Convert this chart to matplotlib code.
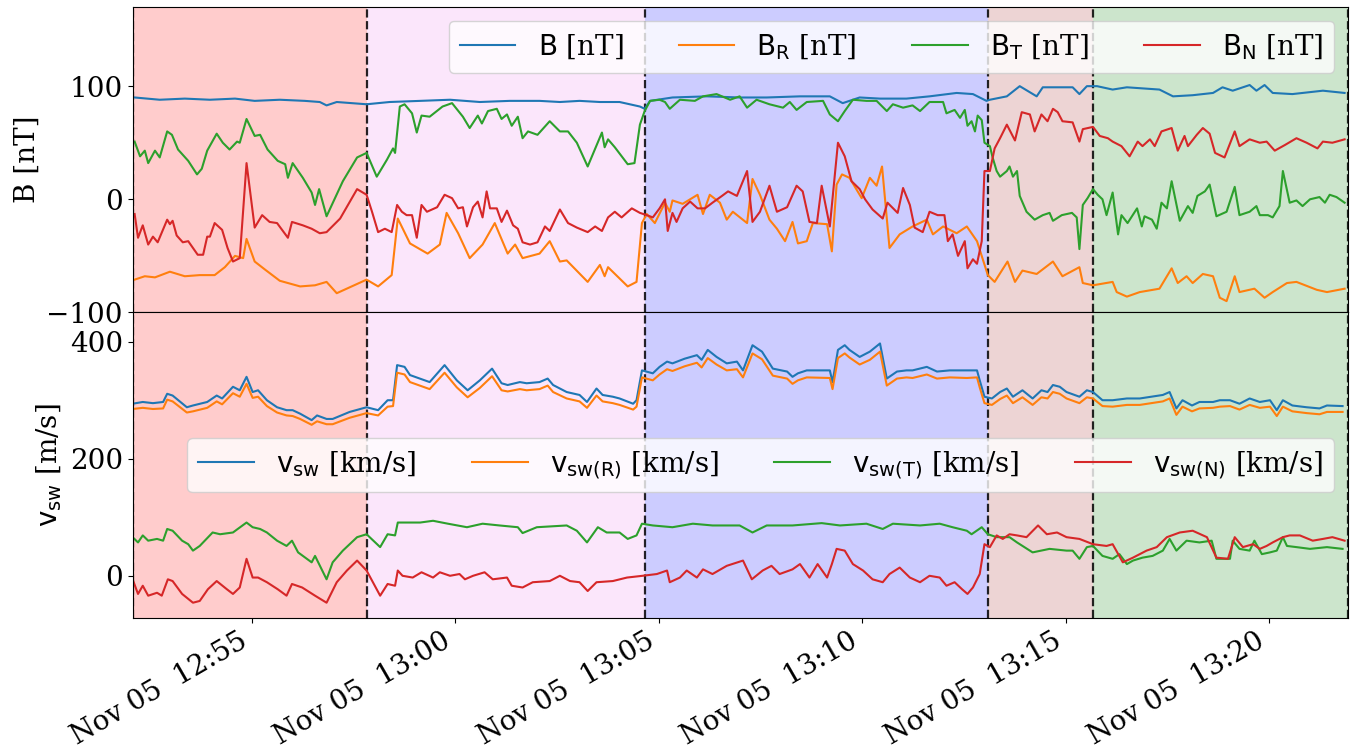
import numpy as np
import pandas as pd
import matplotlib
matplotlib.use('Agg')
import matplotlib.pyplot as plt
import matplotlib.dates as mdates

plt.rcParams['font.family'] = 'DejaVu Serif'
plt.rcParams['font.size'] = 20

t0 = pd.Timestamp('2018-11-05 12:52:00')

# ---- magnetic field panel (seconds after 12:52:00, nT) ----
b_sec = [7, 44, 81, 118, 155, 184, 221, 258, 280, 290, 305, 349, 383, 428, 472, 516, 560, 604, 634, 663,
         693, 722, 752, 759, 767, 800, 851, 899, 939, 988, 1032, 1051, 1076, 1106, 1145, 1179, 1219, 1243,
         1263, 1268, 1293, 1312, 1337, 1346, 1390, 1400, 1411, 1426, 1449, 1470, 1518, 1538, 1567, 1597,
         1611, 1626, 1651, 1661, 1673, 1685, 1714, 1759, 1791]
b_mag = [90, 88, 89, 88, 89, 87, 88, 87, 86, 83, 86, 84, 86, 87, 88, 86, 87, 87, 86, 87,
         86, 86, 82, 80, 87, 90, 91, 90, 90, 91, 91, 85, 90, 89, 89, 91, 94, 93,
         87, 88, 91, 100, 91, 99, 99, 93, 100, 100, 97, 99, 97, 91, 92, 94,
         99, 96, 101, 96, 101, 94, 93, 96, 94]

br_sec = [7, 22, 37, 59, 81, 103, 125, 140, 155, 167, 172, 184, 199, 221, 251, 273, 290, 305, 349, 366,
          386, 395, 413, 439, 457, 467, 484, 501, 520, 538, 557, 568, 579, 604, 619, 634, 644, 675, 693,
          700, 705, 734, 747, 755, 762, 774, 789, 796, 800, 815, 837, 845, 855, 870, 880, 889, 910, 918,
          929, 943, 954, 966, 977, 985, 998, 1007, 1028, 1035, 1042, 1050, 1061, 1079, 1091, 1101, 1109,
          1120, 1135, 1154, 1175, 1184, 1199, 1219, 1234, 1249, 1265, 1275, 1294, 1305, 1316, 1337, 1361,
          1375, 1400, 1405, 1420, 1449, 1455, 1470, 1489, 1518, 1536, 1545, 1558, 1567, 1582, 1597, 1607,
          1617, 1629, 1636, 1658, 1673, 1685, 1706, 1720, 1750, 1765, 1791]
b_r = [-71, -68, -69, -64, -68, -67, -67, -60, -50, -52, -35, -55, -62, -72, -77, -76, -73, -83, -71, -77,
       -67, -17, -39, -48, -40, -12, -30, -52, -40, -21, -48, -40, -52, -48, -37, -55, -54, -73, -58,
       -68, -60, -77, -73, -21, -13, -21, -3, -11, -1, -4, 4, -13, 4, -3, -18, -11, -21, 18,
       4, -18, -26, -37, -20, -39, -37, -21, -22, -46, 13, 22, 19, 1, 19, 12, 29,
       -43, -31, -24, -18, -31, -24, -30, -24, -37, -67, -73, -55, -73, -63, -66, -55,
       -68, -60, -74, -76, -73, -82, -86, -82, -79, -61, -74, -68, -74, -66, -68, -87,
       -90, -68, -82, -79, -87, -82, -74, -73, -80, -82, -79]

bt_sec = [7, 15, 22, 27, 37, 44, 55, 62, 71, 86, 99, 106, 114, 128, 137, 147, 158, 162, 172, 184, 192, 203,
          218, 229, 233, 240, 255, 268, 273, 279, 290, 314, 335, 349, 364, 379, 388, 391, 398, 405, 416,
          423, 430, 442, 461, 475, 491, 501, 513, 519, 528, 541, 548, 556, 563, 572, 579, 587, 601, 619,
          634, 646, 659, 675, 696, 700, 705, 715, 734, 744, 752, 759, 767, 781, 789, 796, 811, 833, 845,
          865, 885, 899, 910, 924, 943, 963, 973, 983, 998, 1022, 1032, 1044, 1054, 1066, 1086, 1101, 1116,
          1125, 1140, 1154, 1165, 1179, 1199, 1204, 1216, 1224, 1231, 1235, 1241, 1246, 1250, 1256, 1260,
          1268, 1272, 1278, 1283, 1293, 1297, 1302, 1308, 1312, 1322, 1334, 1346, 1356, 1361, 1374, 1389,
          1396, 1400, 1405, 1412, 1420, 1427, 1434, 1440, 1449, 1457, 1462, 1471, 1485, 1492, 1496, 1507,
          1514, 1521, 1529, 1536, 1548, 1560, 1567, 1574, 1585, 1592, 1602, 1617, 1629, 1636, 1651, 1661,
          1666, 1678, 1685, 1695, 1700, 1710, 1720, 1729, 1740, 1754, 1762, 1769, 1779, 1791]
b_t = [51, 38, 43, 32, 43, 37, 60, 57, 44, 34, 22, 27, 43, 58, 50, 44, 51, 50, 71, 56, 57, 44,
       34, 31, 19, 32, 19, 6, -5, 9, -15, 16, 37, 41, 20, 35, 45, 41, 82, 84, 76,
       59, 74, 73, 82, 85, 73, 63, 74, 67, 78, 80, 71, 75, 65, 73, 54, 60, 57, 69,
       60, 60, 50, 29, 59, 46, 53, 46, 31, 32, 66, 78, 87, 88, 86, 80, 88, 87, 91,
       93, 88, 91, 81, 88, 84, 81, 86, 79, 86, 87, 75, 69, 78, 88, 87, 87, 78,
       84, 81, 83, 78, 86, 86, 76, 79, 72, 79, 65, 69, 60, 74, 70, 50,
       47, 37, 25, 20, 25, 29, 20, 25, 3, -11, -18, -14, -12, -19, -14, -12,
       -16, -44, -5, 1, 9, 4, 0, -14, 6, -31, -14, -21, -8, -24, -15, -18,
       -26, -3, -8, 16, -19, -6, -12, 3, 7, 13, -15, -11, 11, -14, -11, -6,
       -14, -14, -16, -6, 25, -3, -1, -6, 0, 2, -3, 4, 2, -3]

bn_sec = [7, 12, 19, 27, 34, 41, 55, 59, 63, 69, 78, 86, 100, 108, 114, 118, 125, 136, 144, 152, 162, 172,
          184, 195, 206, 217, 233, 239, 255, 268, 280, 290, 310, 335, 349, 357, 366, 376, 386, 394, 401,
          408, 416, 423, 430, 438, 453, 464, 475, 484, 491, 497, 506, 513, 520, 526, 531, 541, 548, 556,
          565, 572, 579, 590, 601, 612, 619, 634, 646, 659, 675, 686, 696, 705, 715, 725, 740, 752, 762,
          771, 781, 789, 793, 800, 806, 815, 826, 837, 848, 859, 873, 882, 895, 910, 918, 929, 943, 954,
          969, 983, 992, 1002, 1013, 1020, 1032, 1044, 1054, 1064, 1076, 1084, 1095, 1110, 1117, 1132,
          1140, 1150, 1157, 1169, 1179, 1191, 1201, 1206, 1213, 1221, 1231, 1235, 1243, 1249, 1256, 1260,
          1268, 1275, 1283, 1293, 1305, 1315, 1327, 1334, 1344, 1353, 1361, 1368, 1375, 1390, 1400, 1405,
          1420, 1430, 1442, 1449, 1462, 1474, 1486, 1493, 1504, 1511, 1521, 1536, 1545, 1555, 1560, 1573,
          1582, 1592, 1600, 1614, 1629, 1636, 1651, 1666, 1676, 1688, 1703, 1720, 1735, 1751, 1759, 1773, 1791]
b_n = [-13, -34, -23, -40, -33, -38, -18, -22, -19, -32, -38, -37, -49, -49, -33, -33, -21, -27, -43, -55, -52, 32,
       -25, -14, -20, -21, -34, -20, -23, -26, -30, -29, -17, 9, 4, -11, -29, -26, -29, -5, -11,
       -14, -14, -34, -5, -11, -7, 4, 1, -8, -7, -24, -7, -2, -16, 7, -8, -8, -20, -10,
       -23, -26, -38, -40, -38, -24, -28, -9, -21, -25, -29, -24, -28, -16, -11, -16, -8, -12, -14,
       -16, -8, 0, -28, -12, -20, -8, -2, -8, -8, -3, 3, 7, 3, 25, -20, -11, 12, -11,
       -7, 12, 7, -20, -21, 12, -24, 50, 38, 16, 9, 0, -9, -17, -3, -12,
       10, -5, -25, -29, -11, -14, -14, -37, -31, -50, -37, -61, -53, -57, -37, 25,
       25, 45, 54, 66, 52, 77, 75, 60, 75, 69, 80, 77, 69, 68, 51, 62,
       64, 56, 54, 51, 47, 38, 51, 47, 53, 47, 60, 63, 43, 56, 47, 57,
       63, 58, 41, 37, 60, 47, 53, 50, 51, 43, 48, 54, 50, 45, 51, 50, 53]

# ---- solar wind velocity panel (seconds after 12:52:00, km/s) ----
v_sec = [4, 19, 34, 49, 55, 63, 84, 93, 114, 128, 136, 152, 162, 172, 181, 189, 202, 217, 231, 240, 251,
         268, 276, 290, 299, 324, 349, 366, 380, 388, 394, 405, 413, 442, 464, 482, 498, 516, 534, 548,
         557, 575, 585, 604, 616, 624, 644, 663, 674, 688, 697, 712, 722, 742, 747, 755, 771, 781, 792,
         800, 818, 836, 843, 852, 865, 880, 895, 904, 918, 932, 948, 969, 977, 985, 998, 1032, 1036, 1044,
         1054, 1061, 1076, 1091, 1106, 1116, 1131, 1145, 1154, 1175, 1190, 1209, 1234, 1249, 1253, 1260,
         1271, 1283, 1293, 1302, 1316, 1331, 1344, 1353, 1361, 1371, 1381, 1400, 1411, 1420, 1434, 1449,
         1470, 1489, 1523, 1533, 1543, 1552, 1566, 1577, 1597, 1607, 1622, 1636, 1651, 1666, 1681, 1691,
         1700, 1714, 1735, 1754, 1765, 1788]
v_sw = [294, 297, 295, 297, 311, 308, 288, 291, 297, 308, 303, 323, 317, 340, 314, 317, 300, 288, 283, 283, 277,
        266, 274, 268, 268, 280, 288, 283, 300, 300, 360, 357, 343, 331, 360, 334, 317, 334, 354, 329,
        326, 331, 329, 331, 337, 326, 314, 309, 297, 320, 309, 306, 303, 294, 300, 351, 346, 357, 366,
        363, 371, 377, 369, 386, 374, 363, 366, 351, 394, 383, 354, 349, 340, 346, 351, 351, 331, 386,
        394, 386, 374, 383, 397, 337, 349, 351, 351, 357, 349, 351, 351, 351, 334, 306,
        303, 314, 320, 306, 317, 303, 317, 314, 326, 323, 314, 306, 317, 314, 300, 300,
        303, 303, 309, 314, 286, 300, 291, 297, 297, 300, 300, 294, 303, 297, 300, 283,
        300, 291, 288, 286, 291, 290]
v_r = [285, 287, 285, 286, 301, 298, 279, 281, 287, 298, 293, 312, 306, 328, 304, 306, 290, 279, 274, 273, 268,
       258, 264, 259, 259, 270, 278, 274, 289, 290, 347, 344, 331, 319, 347, 322, 305, 321, 341, 317,
       315, 319, 317, 319, 325, 314, 303, 298, 287, 308, 298, 295, 292, 284, 289, 339, 334, 344, 353,
       350, 358, 364, 356, 372, 361, 351, 353, 339, 380, 370, 342, 337, 328, 334, 339, 338, 319, 372,
       380, 373, 361, 369, 383, 325, 337, 339, 338, 344, 337, 339, 338, 339, 322, 295,
       292, 302, 308, 295, 305, 292, 305, 303, 314, 311, 303, 295, 305, 303, 290, 289,
       292, 292, 298, 303, 275, 289, 281, 286, 287, 289, 290, 284, 292, 287, 289, 273,
       289, 281, 278, 276, 280, 280]

vt_sec = [4, 12, 19, 27, 40, 49, 55, 63, 77, 86, 93, 103, 122, 133, 152, 159, 172, 181, 192, 202, 217, 231,
          239, 248, 268, 273, 290, 299, 314, 335, 349, 369, 380, 391, 395, 428, 447, 469, 497, 520, 545, 572,
          579, 600, 644, 659, 674, 690, 703, 722, 734, 747, 755, 771, 800, 830, 859, 899, 918, 939, 977, 1020,
          1047, 1086, 1110, 1125, 1165, 1194, 1213, 1234, 1241, 1256, 1265, 1278, 1297, 1308, 1331, 1356,
          1381, 1390, 1400, 1411, 1420, 1434, 1449, 1459, 1470, 1479, 1493, 1508, 1523, 1533, 1543, 1558,
          1577, 1595, 1602, 1622, 1626, 1636, 1651, 1658, 1669, 1681, 1691, 1700, 1706, 1720, 1740, 1765, 1788]
v_t = [66, 57, 69, 60, 63, 60, 80, 77, 60, 54, 43, 51, 74, 71, 74, 80, 91, 83, 80, 74, 60, 51,
       60, 40, 23, 34, -6, 23, 43, 66, 71, 49, 71, 69, 91, 91, 94, 89, 83, 89, 86, 83,
       73, 83, 86, 77, 57, 83, 74, 74, 63, 69, 89, 86, 83, 89, 86, 86, 74, 86, 86, 90,
       86, 89, 80, 89, 86, 89, 83, 77, 71, 83, 71, 66, 66, 57, 40, 46,
       43, 43, 29, 49, 51, 34, 29, 37, 20, 26, 31, 34, 43, 63, 43, 60,
       57, 60, 29, 29, 60, 46, 43, 60, 37, 40, 43, 66, 51, 49, 46, 49, 46]

vn_sec = [4, 12, 19, 27, 40, 47, 56, 63, 77, 93, 103, 115, 128, 143, 152, 162, 172, 181, 189, 202, 218, 231,
          239, 254, 273, 290, 305, 320, 335, 349, 369, 380, 391, 395, 402, 417, 430, 447, 457, 472, 486, 494,
          506, 523, 535, 556, 563, 579, 594, 619, 634, 649, 663, 675, 688, 712, 733, 756, 777, 792, 796, 811,
          821, 836, 845, 859, 880, 904, 917, 933, 946, 958, 977, 988, 1002, 1014, 1028, 1035, 1042, 1054,
          1066, 1081, 1095, 1110, 1120, 1135, 1150, 1165, 1179, 1194, 1204, 1216, 1227, 1235, 1243, 1253,
          1260, 1268, 1278, 1287, 1297, 1308, 1322, 1339, 1352, 1367, 1381, 1400, 1420, 1440, 1449, 1464,
          1479, 1499, 1514, 1529, 1548, 1567, 1588, 1602, 1619, 1629, 1641, 1656, 1666, 1676, 1685, 1700,
          1710, 1725, 1744, 1759, 1773, 1791]
v_n = [-6, -31, -17, -34, -29, -34, -6, -9, -31, -46, -43, -23, -9, -23, -31, -20, 29, -3, -3, -11, -23, -34,
       -14, -20, -34, -46, -11, 9, 26, 9, -34, -14, -17, 9, 0, -3, 6, -3, 6, 0, 3, -6,
       0, 6, -6, -3, -17, -20, -11, -9, 0, -9, -11, -26, -11, -9, -3, 0, 3, 9, -11, -3,
       9, -3, 11, 3, 17, 26, -6, 9, 17, 3, 11, 20, -3, 20, -3, 20, 46, 43,
       20, 9, -6, -11, 3, 14, -3, -11, 0, -3, -17, -11, -23, -31, -20, 3,
       54, 49, 69, 63, 71, 69, 66, 86, 71, 74, 66, 63, 54, 51, 54, 23,
       31, 43, 49, 66, 74, 77, 66, 31, 29, 66, 49, 54, 46, 51, 57, 66,
       69, 69, 60, 63, 66, 60]

# interval boundaries
bounds = ['12:52:04', '12:57:50', '13:04:40', '13:13:05', '13:15:40', '13:21:56']
shade_colors = ['red', 'violet', 'blue', 'brown', 'green']


def tt(sec):
    return t0 + pd.to_timedelta(np.array(sec), unit='s')


edges = [pd.Timestamp('2018-11-05 ' + b) for b in bounds]

fig, (ax1, ax2) = plt.subplots(2, 1, sharex=True, figsize=(13.53, 7.49), dpi=100)
fig.subplots_adjust(left=0.098, right=0.9963, top=0.9907, bottom=0.175, hspace=0)

for ax in (ax1, ax2):
    for k in range(len(shade_colors)):
        ax.axvspan(edges[k], edges[k + 1], color=shade_colors[k], alpha=0.2, lw=0)
    for e in edges:
        ax.axvline(e, color='k', ls='--', lw=1.6, alpha=0.85)

ax1.plot(tt(b_sec), b_mag, label=r'$\mathrm{B}$ [nT]')
ax1.plot(tt(br_sec), b_r, label=r'$\mathrm{B_R}$ [nT]')
ax1.plot(tt(bt_sec), b_t, label=r'$\mathrm{B_T}$ [nT]')
ax1.plot(tt(bn_sec), b_n, label=r'$\mathrm{B_N}$ [nT]')
ax1.set_ylim(-100, 170)
ax1.set_yticks([-100, 0, 100])
ax1.set_ylabel('B [nT]')
ax1.legend(loc='upper right', ncol=4)

ax2.plot(tt(v_sec), v_sw, label=r'$\mathrm{v_{sw}}$ [km/s]')
ax2.plot(tt(v_sec), v_r, label=r'$\mathrm{v_{sw(R)}}$ [km/s]')
ax2.plot(tt(vt_sec), v_t, label=r'$\mathrm{v_{sw(T)}}$ [km/s]')
ax2.plot(tt(vn_sec), v_n, label=r'$\mathrm{v_{sw(N)}}$ [km/s]')
ax2.set_ylim(-72, 450)
ax2.set_yticks([0, 200, 400])
ax2.set_ylabel(r'$\mathrm{v_{sw}}$ [m/s]')
ax2.legend(loc='center right', ncol=4)

ax2.set_xlim(edges[0], edges[-1])
ax2.xaxis.set_major_locator(mdates.MinuteLocator(byminute=range(0, 60, 5)))
ax2.xaxis.set_major_formatter(mdates.DateFormatter('%b %d  %H:%M'))
plt.setp(ax2.get_xticklabels(), rotation=30, ha='right')

fig.savefig('out.png', dpi=100)
